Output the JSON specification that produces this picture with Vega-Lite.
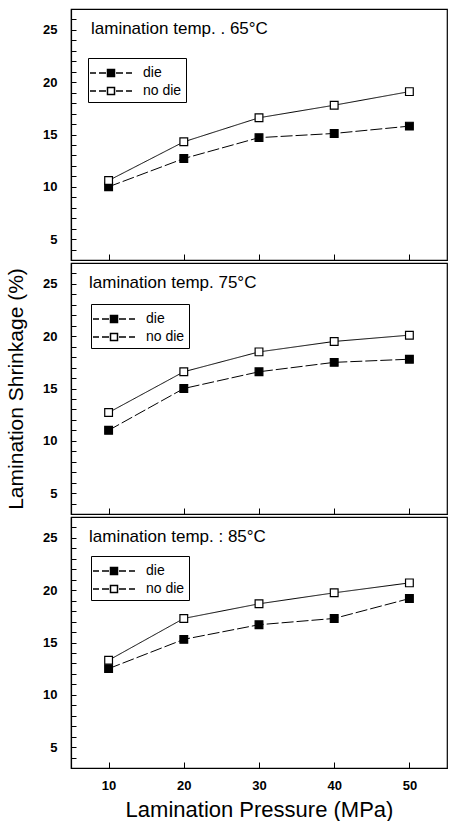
{
  "$schema": "https://vega.github.io/schema/vega-lite/v6.json",
  "padding": {"left": 4, "top": 8, "right": 4, "bottom": 0},
  "spacing": 0,
  "config": {
    "font": "Liberation Sans",
    "view": {"stroke": "black", "strokeWidth": 1.2},
    "axis": {"domainColor": "black", "domainWidth": 1.2, "tickColor": "black", "labelColor": "black", "titleColor": "black", "grid": false, "labelFont": "Liberation Sans", "titleFont": "Liberation Sans", "labelFontSize": 13, "labelFontWeight": "bold", "titleFontSize": 21, "titleFontWeight": "normal", "labelOverlap": false, "labelFlush": false}
  },
  "resolve": {"legend": {"fill": "independent"}},
  "datasets": {
    "d": [
      {"panel": "65", "pressure": 10, "series": "die", "shrink": 10.0},
      {"panel": "65", "pressure": 20, "series": "die", "shrink": 12.7},
      {"panel": "65", "pressure": 30, "series": "die", "shrink": 14.7},
      {"panel": "65", "pressure": 40, "series": "die", "shrink": 15.1},
      {"panel": "65", "pressure": 50, "series": "die", "shrink": 15.8},
      {"panel": "65", "pressure": 10, "series": "no die", "shrink": 10.6},
      {"panel": "65", "pressure": 20, "series": "no die", "shrink": 14.3},
      {"panel": "65", "pressure": 30, "series": "no die", "shrink": 16.6},
      {"panel": "65", "pressure": 40, "series": "no die", "shrink": 17.8},
      {"panel": "65", "pressure": 50, "series": "no die", "shrink": 19.1},
      {"panel": "75", "pressure": 10, "series": "die", "shrink": 11.0},
      {"panel": "75", "pressure": 20, "series": "die", "shrink": 15.0},
      {"panel": "75", "pressure": 30, "series": "die", "shrink": 16.6},
      {"panel": "75", "pressure": 40, "series": "die", "shrink": 17.5},
      {"panel": "75", "pressure": 50, "series": "die", "shrink": 17.8},
      {"panel": "75", "pressure": 10, "series": "no die", "shrink": 12.7},
      {"panel": "75", "pressure": 20, "series": "no die", "shrink": 16.6},
      {"panel": "75", "pressure": 30, "series": "no die", "shrink": 18.5},
      {"panel": "75", "pressure": 40, "series": "no die", "shrink": 19.5},
      {"panel": "75", "pressure": 50, "series": "no die", "shrink": 20.1},
      {"panel": "85", "pressure": 10, "series": "die", "shrink": 12.5},
      {"panel": "85", "pressure": 20, "series": "die", "shrink": 15.3},
      {"panel": "85", "pressure": 30, "series": "die", "shrink": 16.7},
      {"panel": "85", "pressure": 40, "series": "die", "shrink": 17.3},
      {"panel": "85", "pressure": 50, "series": "die", "shrink": 19.2},
      {"panel": "85", "pressure": 10, "series": "no die", "shrink": 13.3},
      {"panel": "85", "pressure": 20, "series": "no die", "shrink": 17.3},
      {"panel": "85", "pressure": 30, "series": "no die", "shrink": 18.7},
      {"panel": "85", "pressure": 40, "series": "no die", "shrink": 19.75},
      {"panel": "85", "pressure": 50, "series": "no die", "shrink": 20.7}
    ]
  },
  "vconcat": [
    {
      "width": 376, "height": 251,
      "title": {"text": "lamination temp. . 65°C", "anchor": "start", "frame": "group", "orient": "top", "offset": -29, "dx": 20, "fontSize": 17, "fontWeight": "normal", "font": "Liberation Sans", "color": "black"},
      "data": {"name": "d"},
      "transform": [{"filter": "datum.panel === '65'"}],
      "encoding": {
        "x": {"field": "pressure", "type": "quantitative", "scale": {"domain": [5, 55], "nice": false, "zero": false},
          "axis": {"values": [10, 20, 30, 40, 50], "labels": false, "tickSize": -6, "title": null}},
        "y": {"field": "shrink", "type": "quantitative", "scale": {"domain": [3, 27], "nice": false, "zero": false},
          "axis": {"values": [4,5,6,7,8,9,10,11,12,13,14,15,16,17,18,19,20,21,22,23,24,25,26], "labelExpr": "datum.value % 5 === 0 ? datum.label : ''", "tickSize": -5, "labelPadding": 19, "title": " ", "titlePadding": 16,
            "encode": {"ticks": {"update": {"x2": {"signal": "datum.value % 5 === 0 ? 5 : 3"}}}}}}
      },
      "layer": [
        {"mark": {"type": "line", "color": "black", "strokeWidth": 1},
         "encoding": {"strokeDash": {"field": "series", "type": "nominal", "scale": {"domain": ["die", "no die"], "range": [[12, 3], [1, 0]]}, "legend": null}}},
        {"mark": {"type": "point", "shape": "square", "filled": true, "size": 60, "stroke": "black", "strokeWidth": 1.2, "opacity": 1},
         "encoding": {"fill": {"field": "series", "type": "nominal", "scale": {"domain": ["die", "no die"], "range": ["black", "white"]},
           "legend": {"orient": "none", "legendX": 17, "legendY": 49, "title": null, "strokeColor": "black", "padding": 4, "labelFontSize": 14, "labelFont": "Liberation Sans", "labelColor": "black", "symbolSize": 400, "symbolOffset": 8, "labelOffset": 21, "symbolType": "M-2.1,0H-1.5M-1.2,0H-0.5M0.5,0H1.2M1.5,0H2.1M-0.35,-0.35H0.35V0.35H-0.35Z", "rowPadding": 0,
             "encode": {"symbols": {"update": {"stroke": {"value": "black"}, "strokeWidth": {"value": 1}}}}}}}}
      ]
    },
    {
      "width": 376, "height": 251,
      "title": {"text": "lamination temp.  75°C", "anchor": "start", "frame": "group", "orient": "top", "offset": -29, "dx": 18, "fontSize": 17, "fontWeight": "normal", "font": "Liberation Sans", "color": "black"},
      "data": {"name": "d"},
      "transform": [{"filter": "datum.panel === '75'"}],
      "encoding": {
        "x": {"field": "pressure", "type": "quantitative", "scale": {"domain": [5, 55], "nice": false, "zero": false},
          "axis": {"values": [10, 20, 30, 40, 50], "labels": false, "tickSize": -6, "title": null}},
        "y": {"field": "shrink", "type": "quantitative", "scale": {"domain": [3, 27], "nice": false, "zero": false},
          "axis": {"values": [4,5,6,7,8,9,10,11,12,13,14,15,16,17,18,19,20,21,22,23,24,25,26], "labelExpr": "datum.value % 5 === 0 ? datum.label : ''", "tickSize": -5, "labelPadding": 19, "title": "Lamination Shrinkage (%)", "titlePadding": 16,
            "encode": {"ticks": {"update": {"x2": {"signal": "datum.value % 5 === 0 ? 5 : 3"}}}}}}
      },
      "layer": [
        {"mark": {"type": "line", "color": "black", "strokeWidth": 1},
         "encoding": {"strokeDash": {"field": "series", "type": "nominal", "scale": {"domain": ["die", "no die"], "range": [[12, 3], [1, 0]]}, "legend": null}}},
        {"mark": {"type": "point", "shape": "square", "filled": true, "size": 60, "stroke": "black", "strokeWidth": 1.2, "opacity": 1},
         "encoding": {"fill": {"field": "series", "type": "nominal", "scale": {"domain": ["die", "no die"], "range": ["black", "white"]},
           "legend": {"orient": "none", "legendX": 20, "legendY": 41, "title": null, "strokeColor": "black", "padding": 4, "labelFontSize": 14, "labelFont": "Liberation Sans", "labelColor": "black", "symbolSize": 400, "symbolOffset": 8, "labelOffset": 21, "symbolType": "M-2.1,0H-1.5M-1.2,0H-0.5M0.5,0H1.2M1.5,0H2.1M-0.35,-0.35H0.35V0.35H-0.35Z", "rowPadding": 0,
             "encode": {"symbols": {"update": {"stroke": {"value": "black"}, "strokeWidth": {"value": 1}}}}}}}}
      ]
    },
    {
      "width": 376, "height": 251,
      "title": {"text": "lamination temp. : 85°C", "anchor": "start", "frame": "group", "orient": "top", "offset": -29, "dx": 18, "fontSize": 17, "fontWeight": "normal", "font": "Liberation Sans", "color": "black"},
      "data": {"name": "d"},
      "transform": [{"filter": "datum.panel === '85'"}],
      "encoding": {
        "x": {"field": "pressure", "type": "quantitative", "scale": {"domain": [5, 55], "nice": false, "zero": false},
          "axis": {"values": [10, 20, 30, 40, 50], "tickSize": -6, "labelPadding": 17, "title": "Lamination Pressure (MPa)", "titleFontSize": 22, "titlePadding": 7}},
        "y": {"field": "shrink", "type": "quantitative", "scale": {"domain": [3, 27], "nice": false, "zero": false},
          "axis": {"values": [4,5,6,7,8,9,10,11,12,13,14,15,16,17,18,19,20,21,22,23,24,25,26], "labelExpr": "datum.value % 5 === 0 ? datum.label : ''", "tickSize": -5, "labelPadding": 19, "title": " ", "titlePadding": 16,
            "encode": {"ticks": {"update": {"x2": {"signal": "datum.value % 5 === 0 ? 5 : 3"}}}}}}
      },
      "layer": [
        {"mark": {"type": "line", "color": "black", "strokeWidth": 1},
         "encoding": {"strokeDash": {"field": "series", "type": "nominal", "scale": {"domain": ["die", "no die"], "range": [[12, 3], [1, 0]]}, "legend": null}}},
        {"mark": {"type": "point", "shape": "square", "filled": true, "size": 60, "stroke": "black", "strokeWidth": 1.2, "opacity": 1},
         "encoding": {"fill": {"field": "series", "type": "nominal", "scale": {"domain": ["die", "no die"], "range": ["black", "white"]},
           "legend": {"orient": "none", "legendX": 20, "legendY": 39, "title": null, "strokeColor": "black", "padding": 4, "labelFontSize": 14, "labelFont": "Liberation Sans", "labelColor": "black", "symbolSize": 400, "symbolOffset": 8, "labelOffset": 21, "symbolType": "M-2.1,0H-1.5M-1.2,0H-0.5M0.5,0H1.2M1.5,0H2.1M-0.35,-0.35H0.35V0.35H-0.35Z", "rowPadding": 0,
             "encode": {"symbols": {"update": {"stroke": {"value": "black"}, "strokeWidth": {"value": 1}}}}}}}}
      ]
    }
  ]
}
